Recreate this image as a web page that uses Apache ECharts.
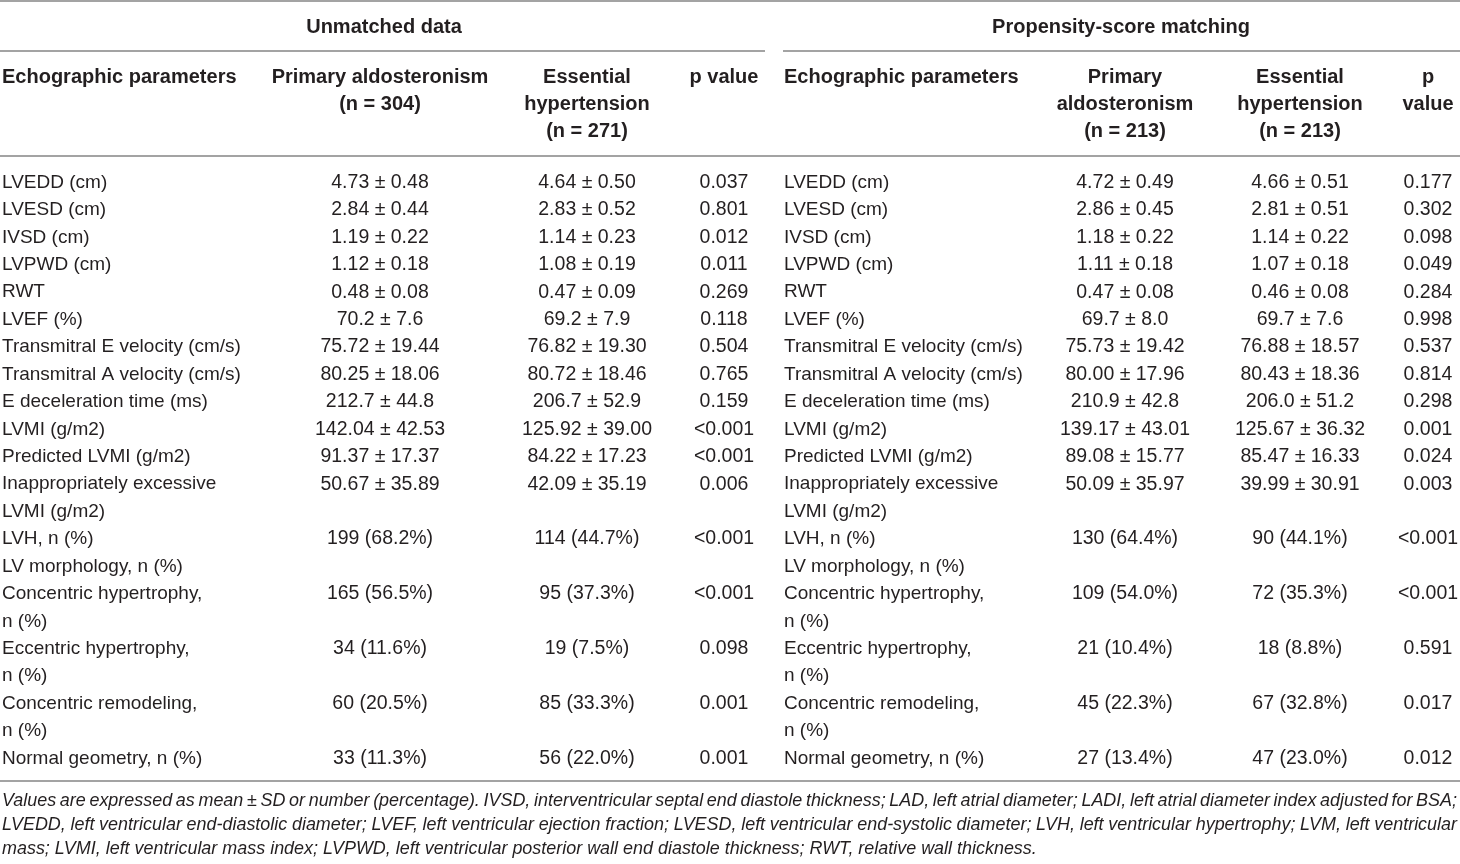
<!DOCTYPE html>
<html lang="en">
<head>
    <meta charset="UTF-8">
    <title>Echographic parameters</title>
    <script src="https://cdn.jsdelivr.net/npm/echarts@6/dist/echarts.min.js"></script>
    <style>
        html, body {margin: 0; padding: 0; background: #fff;}
    </style>
</head>
<body>

<div id="main" style="width: 1460px;height:864px;"></div>

<script>
    // table content
    var spanners = ['Unmatched data', 'Propensity-score matching'];
    var headLeft = ['Echographic parameters', 'Primary aldosteronism\n(n = 304)', 'Essential\nhypertension\n(n = 271)', 'p value'];
    var headRight = ['Echographic parameters', 'Primary\naldosteronism\n(n = 213)', 'Essential\nhypertension\n(n = 213)', 'p\nvalue'];

    var params = [
        'LVEDD (cm)', 'LVESD (cm)', 'IVSD (cm)', 'LVPWD (cm)', 'RWT', 'LVEF (%)',
        'Transmitral E velocity (cm/s)', 'Transmitral A velocity (cm/s)', 'E deceleration time (ms)',
        'LVMI (g/m2)', 'Predicted LVMI (g/m2)', 'Inappropriately excessive\nLVMI (g/m2)',
        'LVH, n (%)', 'LV morphology, n (%)', 'Concentric hypertrophy,\nn (%)',
        'Eccentric hypertrophy,\nn (%)', 'Concentric remodeling,\nn (%)', 'Normal geometry, n (%)'
    ];

    var unmatchedPA = ['4.73 ± 0.48', '2.84 ± 0.44', '1.19 ± 0.22', '1.12 ± 0.18', '0.48 ± 0.08', '70.2 ± 7.6',
        '75.72 ± 19.44', '80.25 ± 18.06', '212.7 ± 44.8', '142.04 ± 42.53', '91.37 ± 17.37', '50.67 ± 35.89',
        '199 (68.2%)', '', '165 (56.5%)', '34 (11.6%)', '60 (20.5%)', '33 (11.3%)'];
    var unmatchedEH = ['4.64 ± 0.50', '2.83 ± 0.52', '1.14 ± 0.23', '1.08 ± 0.19', '0.47 ± 0.09', '69.2 ± 7.9',
        '76.82 ± 19.30', '80.72 ± 18.46', '206.7 ± 52.9', '125.92 ± 39.00', '84.22 ± 17.23', '42.09 ± 35.19',
        '114 (44.7%)', '', '95 (37.3%)', '19 (7.5%)', '85 (33.3%)', '56 (22.0%)'];
    var unmatchedP = ['0.037', '0.801', '0.012', '0.011', '0.269', '0.118', '0.504', '0.765', '0.159',
        '<0.001', '<0.001', '0.006', '<0.001', '', '<0.001', '0.098', '0.001', '0.001'];

    var matchedPA = ['4.72 ± 0.49', '2.86 ± 0.45', '1.18 ± 0.22', '1.11 ± 0.18', '0.47 ± 0.08', '69.7 ± 8.0',
        '75.73 ± 19.42', '80.00 ± 17.96', '210.9 ± 42.8', '139.17 ± 43.01', '89.08 ± 15.77', '50.09 ± 35.97',
        '130 (64.4%)', '', '109 (54.0%)', '21 (10.4%)', '45 (22.3%)', '27 (13.4%)'];
    var matchedEH = ['4.66 ± 0.51', '2.81 ± 0.51', '1.14 ± 0.22', '1.07 ± 0.18', '0.46 ± 0.08', '69.7 ± 7.6',
        '76.88 ± 18.57', '80.43 ± 18.36', '206.0 ± 51.2', '125.67 ± 36.32', '85.47 ± 16.33', '39.99 ± 30.91',
        '90 (44.1%)', '', '72 (35.3%)', '18 (8.8%)', '67 (32.8%)', '47 (23.0%)'];
    var matchedP = ['0.177', '0.302', '0.098', '0.049', '0.284', '0.998', '0.537', '0.814', '0.298',
        '0.001', '0.024', '0.003', '<0.001', '', '<0.001', '0.591', '0.017', '0.012'];

    var footnote = [
        'Values are expressed as mean ± SD or number (percentage). IVSD, interventricular septal end diastole thickness; LAD, left atrial diameter; LADI, left atrial diameter index adjusted for BSA;',
        'LVEDD, left ventricular end-diastolic diameter; LVEF, left ventricular ejection fraction; LVESD, left ventricular end-systolic diameter; LVH, left ventricular hypertrophy; LVM, left ventricular',
        'mass; LVMI, left ventricular mass index; LVPWD, left ventricular posterior wall end diastole thickness; RWT, relative wall thickness.'
    ];
</script>

<script>
    var FONT = '"Liberation Sans", Arial, Helvetica, sans-serif';
    var INK = '#231f20';
    var RULE = '#a3a3a3';

    // layout
    var W = 1460, H = 864;
    var leftCols = [2, 380, 587, 724];
    var rightCols = [784, 1125, 1300, 1428];
    var spannerX = [384, 1121];
    var headTop = 77, headStep = 27.2;
    var bodyTop = 182.5, bodyStep = 27.43;
    var noteTop = 801, noteStep = 24;
    var lastNoteWidth = 1035;   // the short last line of the note ends near x=1037

    var cells = [];

    function addCell(x, y, text, align, weight, size, style) {
        cells.push({x: x, y: y, text: text, align: align, weight: weight, size: size, style: style || 'normal'});
    }

    // spanner titles
    spanners.forEach(function (t, i) {
        addCell(spannerX[i], 27, t, 'center', 'bold', 20);
    });

    // column headers
    [[headLeft, leftCols], [headRight, rightCols]].forEach(function (pair) {
        pair[0].forEach(function (h, c) {
            h.split('\n').forEach(function (line, k) {
                addCell(pair[1][c], headTop + k * headStep, line, c === 0 ? 'left' : 'center', 'bold', 20);
            });
        });
    });

    // body rows
    var lineIdx = 0;
    params.forEach(function (p, r) {
        var y0 = bodyTop + lineIdx * bodyStep;
        var parts = p.split('\n');
        [leftCols, rightCols].forEach(function (cols) {
            parts.forEach(function (line, k) {
                addCell(cols[0], y0 + k * bodyStep, line, 'left', 'normal', 19);
            });
        });
        [unmatchedPA, unmatchedEH, unmatchedP].forEach(function (arr, c) {
            if (arr[r]) addCell(leftCols[c + 1], y0, arr[r], 'center', 'normal', 19.5);
        });
        [matchedPA, matchedEH, matchedP].forEach(function (arr, c) {
            if (arr[r]) addCell(rightCols[c + 1], y0, arr[r], 'center', 'normal', 19.5);
        });
        lineIdx += parts.length;
    });

    // footnote: size fitted to the short last line, other lines justified
    var ctx = document.createElement('canvas').getContext('2d');
    ctx.font = 'italic 17px ' + FONT;
    var noteSize = 17 * lastNoteWidth / ctx.measureText(footnote[footnote.length - 1]).width;
    noteSize = Math.min(noteSize, 18);
    ctx.font = 'italic ' + noteSize + 'px ' + FONT;
    footnote.forEach(function (line, i) {
        var y = noteTop + i * noteStep;
        var words = line.split(' ');
        var widths = words.map(function (w) { return ctx.measureText(w).width; });
        var total = widths.reduce(function (a, b) { return a + b; }, 0);
        var gap = ctx.measureText(' ').width;
        if (i < footnote.length - 1) gap = (W - 3 - 2 - total) / (words.length - 1);
        var x = 2;
        words.forEach(function (w, k) {
            addCell(x, y, w, 'left', 'normal', noteSize, 'italic');
            x += widths[k] + gap;
        });
    });

    // horizontal rules: [x1, y, x2, width]
    var rules = [
        [0, 1, W, 2],
        [0, 51, 765, 2],
        [783, 51, W, 2],
        [0, 156, W, 2],
        [0, 781, W, 2]
    ];

    var myChart = echarts.init(document.getElementById('main'));

    var option = {
        backgroundColor: '#fff',
        animation: false,
        grid: {left: 0, right: 0, top: 0, bottom: 0},
        xAxis: {type: 'value', min: 0, max: W, show: false},
        yAxis: {type: 'value', min: 0, max: H, inverse: true, show: false},
        series: [
            {
                type: 'custom',
                silent: true,
                data: rules,
                renderItem: function (params, api) {
                    var a = api.coord([api.value(0), api.value(1)]);
                    var b = api.coord([api.value(2), api.value(1)]);
                    return {
                        type: 'line',
                        shape: {x1: a[0], y1: a[1], x2: b[0], y2: b[1]},
                        style: {stroke: RULE, lineWidth: api.value(3)}
                    };
                }
            },
            {
                type: 'custom',
                silent: true,
                data: cells.map(function (c) { return [c.x, c.y]; }),
                renderItem: function (params, api) {
                    var c = cells[params.dataIndex];
                    var p = api.coord([api.value(0), api.value(1)]);
                    return {
                        type: 'text',
                        x: p[0],
                        y: p[1],
                        style: {
                            text: c.text,
                            fill: INK,
                            fontFamily: FONT,
                            fontSize: c.size,
                            fontWeight: c.weight,
                            fontStyle: c.style,
                            textAlign: c.align,
                            textVerticalAlign: 'middle'
                        }
                    };
                }
            }
        ]
    };

    myChart.setOption(option);
</script>

</body>
</html>
